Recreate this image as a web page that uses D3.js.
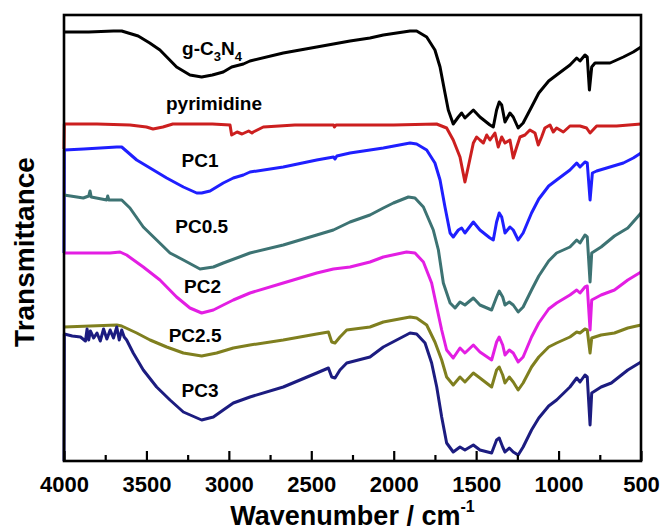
<!DOCTYPE html>
<html>
<head>
<meta charset="utf-8">
<script src="https://cdn.jsdelivr.net/npm/d3@7"></script>
<style>
  body { margin: 0; background: #fff; }
  svg text { font-family: "Liberation Sans", Arial, sans-serif; font-weight: bold; fill: #000; }
</style>
</head>
<body>
<div id="chart"></div>
<script>
// FTIR spectra, [wavenumber (cm-1), transmittance (offset, a.u.)]
var gC3N4 = [[4000,429],[3850,429],[3700,430],[3650,430],[3550,425],[3480,418],[3418,411],[3317,394],[3236,386],
  [3165,384],[3100,386],[3034,389],[2983,394],[2912,397],[2872,400],[2670,408],[2467,414],[2265,420],[2144,423],
  [2063,426],[1901,430],[1861,430],[1800,424],[1750,411],[1719,394],[1689,368],[1669,351],[1639,337],[1608,344],
  [1588,348],[1568,343],[1517,351],[1477,344],[1416,336],[1396,334],[1376,351],[1360,359],[1345,356],[1325,339],
  [1295,348],[1275,344],[1245,333],[1215,338],[1164,354],[1120,368],[1060,380],[1012,386],[931,396],[890,403],[870,400],
  [840,406],[826,404],[813,371],[799,394],[779,398],[688,398],[607,404],[547,409],[500,414]];

var pyrimidine = [[4000,312],[3998,337],[3800,337],[3600,336],[3500,334],[3460,332],[3400,334],[3340,337],[3100,337],
  [2993,336],[2983,326],[2950,329],[2920,327],[2880,330],[2860,328],[2852,329],[2791,334],[2600,336],[2365,336],
  [2360,334],[2350,336],[2000,336],[1740,337],[1679,333],[1639,321],[1598,304],[1568,279],[1548,294],[1517,318],
  [1497,324],[1477,321],[1456,318],[1436,326],[1416,321],[1386,328],[1366,314],[1345,324],[1325,318],[1295,321],
  [1275,303],[1254,314],[1234,324],[1204,326],[1174,331],[1143,328],[1123,316],[1103,324],[1083,333],[1052,336],
  [1032,329],[1012,333],[971,329],[931,335],[870,335],[830,333],[809,328],[769,335],[648,335],[500,337]];

var pc1 = [[4000,208],[3998,311],[3880,312],[3680,314],[3650,314],[3559,301],[3478,293],[3377,283],[3276,274],
  [3195,268],[3165,268],[3114,270],[3034,278],[2973,283],[2912,286],[2872,289],[2670,294],[2467,301],[2365,304],
  [2356,302],[2345,305],[2265,308],[2063,313],[1901,318],[1861,317],[1800,311],[1750,298],[1719,281],[1689,254],
  [1658,228],[1639,224],[1608,231],[1588,233],[1568,228],[1517,239],[1477,231],[1416,223],[1396,221],[1376,239],
  [1360,248],[1345,244],[1325,228],[1295,234],[1275,231],[1245,221],[1215,228],[1164,248],[1120,262],[1060,275],[1012,281],
  [931,291],[890,298],[870,294],[840,299],[826,298],[809,261],[795,288],[769,290],[688,294],[607,298],[547,303],[500,308]];

var pc05 = [[4000,266],[3883,263],[3850,265],[3842,270],[3835,264],[3741,261],[3735,265],[3728,261],[3650,261],
  [3600,253],[3519,234],[3438,221],[3357,208],[3276,201],[3175,192],[3094,194],[3034,198],[2872,208],[2670,216],
  [2467,226],[2366,231],[2265,239],[2144,246],[2063,253],[2002,258],[1911,264],[1871,263],[1820,254],[1760,231],
  [1729,211],[1699,178],[1658,158],[1628,153],[1598,159],[1568,156],[1517,163],[1477,156],[1406,151],[1376,164],
  [1360,170],[1339,164],[1325,156],[1299,159],[1275,156],[1245,149],[1215,154],[1164,171],[1120,185],[1060,200],[1012,208],
  [931,214],[890,221],[870,218],[840,226],[826,224],[809,179],[799,208],[742,214],[661,225],[580,233],[500,248]];

var pc2 = [[4000,208],[3883,208],[3721,208],[3660,209],[3620,206],[3519,194],[3418,181],[3317,164],[3236,153],
  [3165,148],[3094,151],[3034,156],[2973,161],[2872,168],[2670,178],[2467,188],[2366,192],[2265,194],[2144,199],
  [2063,204],[1922,209],[1871,208],[1820,199],[1770,178],[1739,154],[1709,131],[1679,111],[1639,103],[1598,113],
  [1568,108],[1517,116],[1477,109],[1406,101],[1376,119],[1360,124],[1339,116],[1325,106],[1299,111],[1275,108],
  [1245,99],[1215,104],[1164,124],[1120,138],[1060,152],[1012,158],[931,166],[890,171],[870,168],[840,174],[826,175],
  [809,131],[799,161],[742,166],[661,171],[580,181],[500,189]];

var pc25 = [[4000,134],[3680,136],[3650,135],[3559,128],[3478,121],[3377,114],[3276,108],[3165,105],[3074,108],
  [2973,113],[2872,116],[2670,121],[2467,127],[2396,129],[2376,119],[2356,118],[2326,124],[2285,131],[2144,134],
  [2063,139],[1901,144],[1861,143],[1800,136],[1750,119],[1709,101],[1679,84],[1639,76],[1598,84],[1568,79],
  [1517,88],[1477,83],[1406,74],[1376,91],[1360,94],[1339,86],[1325,78],[1299,84],[1275,79],[1245,71],[1215,78],
  [1164,94],[1120,104],[1060,114],[1012,118],[931,124],[890,129],[870,128],[840,132],[826,131],[809,108],[799,123],[742,126],
  [661,128],[580,133],[500,136]];

var pc3 = [[4000,0],[3998,127],[3950,125],[3900,124],[3870,120],[3860,132],[3850,121],[3840,130],[3820,123],
  [3800,128],[3780,120],[3760,132],[3740,122],[3720,131],[3700,123],[3680,134],[3665,121],[3650,131],[3635,124],
  [3620,121],[3580,108],[3519,91],[3438,74],[3357,61],[3276,49],[3165,41],[3094,44],[3034,51],[2973,58],[2872,64],
  [2670,74],[2467,88],[2396,93],[2376,84],[2356,83],[2326,91],[2285,98],[2144,104],[2063,114],[1901,128],[1861,127],
  [1810,118],[1770,98],[1739,74],[1709,44],[1679,18],[1639,9],[1598,14],[1568,11],[1517,16],[1477,11],[1406,8],
  [1376,21],[1360,23],[1339,14],[1325,9],[1299,13],[1275,9],[1245,6],[1215,14],[1164,31],[1120,43],[1060,55],[1012,61],
  [931,74],[890,83],[870,79],[840,86],[826,84],[809,36],[799,68],[742,74],[680,78],[580,91],[500,99]];

var seriesNames = ["g-C3N4", "pyrimidine", "PC1", "PC0.5", "PC2", "PC2.5", "PC3"];
var seriesData = [gC3N4, pyrimidine, pc1, pc05, pc2, pc25, pc3];
var majorTicks = [4000, 3500, 3000, 2500, 2000, 1500, 1000, 500];
var minorTicks = [3750, 3250, 2750, 2250, 1750, 1250, 750];

// styling
var colors = ["#000000", "#cc1f1f", "#1f1fff", "#3d7373", "#e31ee3", "#7f7f1f", "#1c1c80"];
// label anchors in data units [wavenumber, value]
var labelAt = [[3102, 406], [3090, 351], [3175, 294], [3165, 228], [3160, 168], [3205, 119], [3175, 64]];

var width = 662, height = 530;
var margin = {top: 15, right: 21, bottom: 69, left: 64};
var w = width - margin.left - margin.right;
var h = height - margin.top - margin.bottom;

var svg = d3.select("#chart").append("svg")
    .attr("width", width)
    .attr("height", height);

var g = svg.append("g")
    .attr("transform", "translate(" + margin.left + "," + margin.top + ")");

var x = d3.scaleLinear().domain([4000, 500]).range([0, w]);
var y = d3.scaleLinear().domain([0, 446]).range([h, 0]);

var line = d3.line()
    .x(function (d) { return x(d[0]); })
    .y(function (d) { return y(d[1]); });

// spectra
g.selectAll(".spec")
    .data(seriesData)
    .enter().append("path")
    .attr("class", "spec")
    .attr("d", line)
    .attr("fill", "none")
    .attr("stroke", function (d, i) { return colors[i]; })
    .attr("stroke-width", 3)
    .attr("stroke-linejoin", "round");

// bottom axis, ticks pointing inward
var xAxis = g.append("g")
    .attr("transform", "translate(0," + h + ")")
    .call(d3.axisBottom(x).tickValues(majorTicks).tickSize(-10).tickPadding(15).tickFormat(d3.format("d")));
xAxis.selectAll("text").style("font-size", "22px");
xAxis.selectAll("line").attr("stroke-width", 2.2);
xAxis.select(".domain").remove();

var xMinor = g.append("g")
    .attr("transform", "translate(0," + h + ")")
    .call(d3.axisBottom(x).tickValues(minorTicks).tickSize(-6).tickFormat(""));
xMinor.selectAll("line").attr("stroke-width", 2.2);
xMinor.select(".domain").remove();

// frame
g.append("rect")
    .attr("width", w)
    .attr("height", h)
    .attr("fill", "none")
    .attr("stroke", "#000")
    .attr("stroke-width", 2.6);

// curve labels
var labels = g.selectAll(".lbl")
    .data(seriesNames)
    .enter().append("text")
    .attr("class", "lbl")
    .attr("x", function (d, i) { return x(labelAt[i][0]); })
    .attr("y", function (d, i) { return y(labelAt[i][1]); })
    .attr("text-anchor", "middle")
    .style("font-size", "19px");

labels.each(function (d) {
    var t = d3.select(this);
    if (d === "g-C3N4") {
        t.append("tspan").text("g-C");
        t.append("tspan").text("3").style("font-size", "13px").attr("dy", 6);
        t.append("tspan").text("N").attr("dy", -6);
        t.append("tspan").text("4").style("font-size", "13px").attr("dy", 6);
    } else {
        t.text(d);
    }
});

// axis titles
var xt = svg.append("text")
    .attr("x", margin.left + w / 2)
    .attr("y", 525)
    .attr("text-anchor", "middle")
    .style("font-size", "27px");
xt.append("tspan").text("Wavenumber / cm");
xt.append("tspan").text("-1").style("font-size", "16px").attr("dy", -13);

svg.append("text")
    .attr("transform", "translate(34,252) rotate(-90)")
    .attr("text-anchor", "middle")
    .style("font-size", "28px")
    .text("Transmittance");
</script>
</body>
</html>
